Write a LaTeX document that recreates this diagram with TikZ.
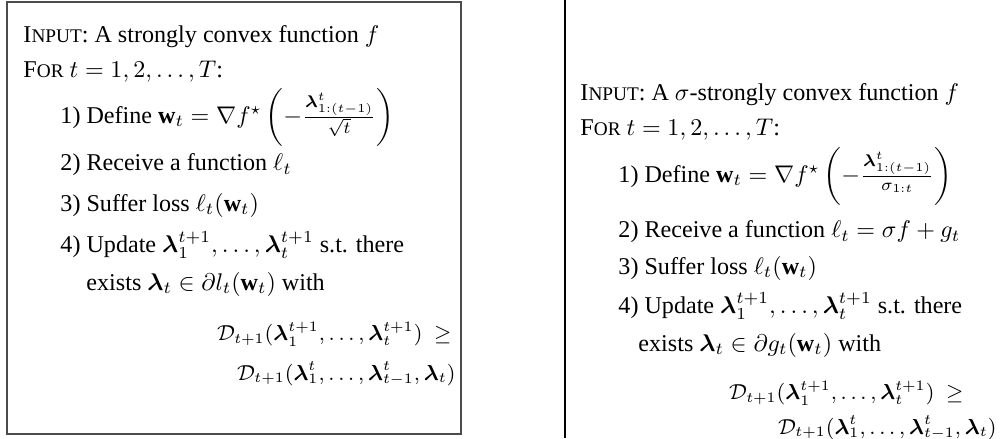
\documentclass[tikz,border=0pt]{standalone}
\usepackage{amsmath}
\usepackage{amssymb}
\usepackage{fontspec}
\setmainfont{Liberation Serif}
\usepackage{tikz}
\usetikzlibrary{positioning}
\newcommand{\smcap}[2]{#1{\footnotesize #2}}
\newcommand{\blam}{\boldsymbol{\lambda}}

\begin{document}
\begin{tikzpicture}[x=0.415pt,y=-0.415pt,
    line node/.style={anchor=west,inner sep=0pt,font=\normalsize},
    dual node/.style={anchor=east,inner sep=0pt,font=\fontsize{9.2}{11}\selectfont},
    box line/.style={draw=black!70,line width=0.6pt}]
  \useasboundingbox (0,0) rectangle (1005,438);
  % left algorithm, full frame
  \begin{scope}
    \coordinate (lnw) at (7,2);
    \coordinate (lse) at (461,434);
    \draw[box line] (lnw) rectangle (lse);
    \node[line node] (inL) at (23,37) {\smcap{I}{NPUT}: A strongly convex function $f$};
    \node[line node] (forL) at (23,72) {\smcap{F}{OR} $t=1,2,\ldots,T$:};
    \node[line node] (defL) at (60,117) {1) Define $\mathbf{w}_t=\nabla f^\star\left(-\frac{\blam^t_{1:(t-1)}}{\sqrt{t}}\right)$};
    \node[line node] (recL) at (60,165) {2) Receive a function $\ell_t$};
    \node[line node] (sufL) at (60,205) {3) Suffer loss $\ell_t(\mathbf{w}_t)$};
    \node[line node] (updL) at (60,245) {4) Update $\blam^{t+1}_1,\ldots,\blam^{t+1}_t$ s.t. there};
    \node[line node] (exL) at (86,284) {exists $\blam_t\in\partial l_t(\mathbf{w}_t)$ with};
    \node[dual node] (dAL) at (452,334) {$\mathcal{D}_{t+1}(\blam^{t+1}_1,\ldots,\blam^{t+1}_t)~\geq$};
    \node[dual node] (dBL) at (456,374) {$\mathcal{D}_{t+1}(\blam^{t}_1,\ldots,\blam^{t}_{t-1},\blam_t)$};
  \end{scope}
  % right algorithm, only its left side shows
  \begin{scope}
    \coordinate (rtop) at (565,0);
    \coordinate (rbot) at (565,438);
    \draw[line width=0.8pt] (rtop) -- (rbot);
    \node[line node] (inR) at (580,95) {\smcap{I}{NPUT}: A $\sigma$-strongly convex function $f$};
    \node[line node] (forR) at (580,130) {\smcap{F}{OR} $t=1,2,\ldots,T$:};
    \node[line node] (defR) at (618,176) {1) Define $\mathbf{w}_t=\nabla f^\star\left(-\frac{\blam^t_{1:(t-1)}}{\sigma_{1:t}}\right)$};
    \node[line node] (recR) at (618,232) {2) Receive a function $\ell_t=\sigma f+g_t$};
    \node[line node] (sufR) at (618,268) {3) Suffer loss $\ell_t(\mathbf{w}_t)$};
    \node[line node] (updR) at (618,306) {4) Update $\blam^{t+1}_1,\ldots,\blam^{t+1}_t$ s.t. there};
    \node[line node] (exR) at (638,345) {exists $\blam_t\in\partial g_t(\mathbf{w}_t)$ with};
    \node[dual node] (dAR) at (964,393) {$\mathcal{D}_{t+1}(\blam^{t+1}_1,\ldots,\blam^{t+1}_t)~\geq$};
    \node[dual node] (dBR) at (997,428) {$\mathcal{D}_{t+1}(\blam^{t}_1,\ldots,\blam^{t}_{t-1},\blam_t)$};
  \end{scope}
\end{tikzpicture}
\end{document}
